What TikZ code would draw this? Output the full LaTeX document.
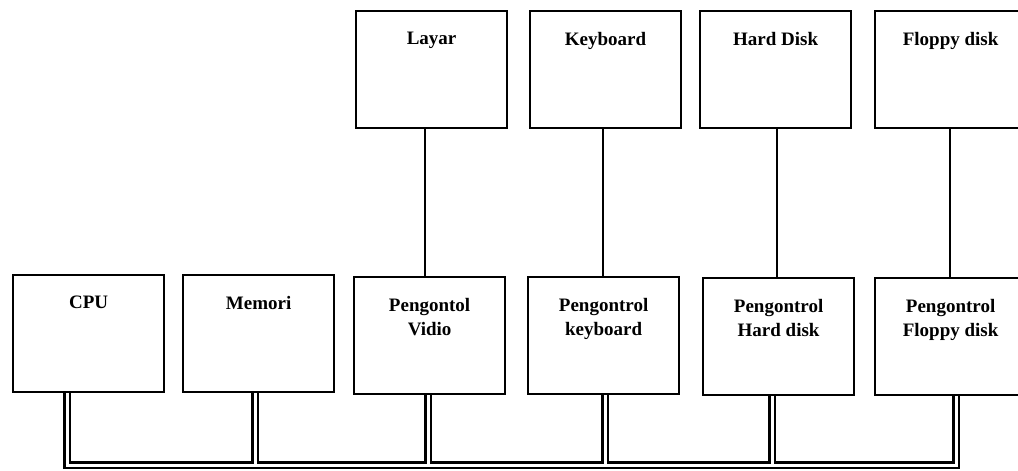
\documentclass[tikz,border=0pt]{standalone}
\usepackage{fontspec}
\setmainfont{Liberation Serif}
\begin{document}
\begin{tikzpicture}[x=1pt,y=-1pt,
  box/.style={draw, line width=2.2pt, rectangle, minimum width=151pt, minimum height=117pt, anchor=north west, inner sep=0pt},
  lbl/.style={font=\fontsize{19}{24}\selectfont\bfseries, align=center, anchor=north, inner sep=0pt},
  link/.style={line width=2.4pt},
  bus/.style={line width=2.2pt, double, double distance=3pt}]
\useasboundingbox (0,0) rectangle (1018,471);
% top row
\node[box] (layar) at (355,10) {};
\node[box] (kbd) at (529,10) {};
\node[box] (hd) at (699,10) {};
\node[box] (fd) at (874,10) {};
% bottom row
\node[box] (cpu) at (12,274) {};
\node[box] (mem) at (182,274) {};
\node[box] (pv) at (353,276) {};
\node[box] (pk) at (527,276) {};
\node[box] (ph) at (702,277) {};
\node[box] (pf) at (874,277) {};
% labels
\node[lbl] (tl) at ([yshift=-22pt]layar.north) {Layar};
\node[lbl] (tk) at ([yshift=-22pt]kbd.north) {Keyboard};
\node[lbl] (th) at ([yshift=-22pt]hd.north) {Hard Disk};
\node[lbl] (tf) at ([yshift=-22pt]fd.north) {Floppy disk};
\node[lbl] (tc) at ([yshift=-22pt]cpu.north) {CPU};
\node[lbl] (tm) at ([yshift=-22pt]mem.north) {Memori};
\node[lbl] (tpv) at ([yshift=-22pt]pv.north) {Pengontol\\Vidio};
\node[lbl] (tpk) at ([yshift=-22pt]pk.north) {Pengontrol\\keyboard};
\node[lbl] (tph) at ([yshift=-22pt]ph.north) {Pengontrol\\Hard disk};
\node[lbl] (tpf) at ([yshift=-22pt]pf.north) {Pengontrol\\Floppy disk};
% single connectors
\draw[link] (layar.south -| 425,0) -- (pv.north -| 425,0);
\draw[link] (kbd.south -| 603,0) -- (pk.north -| 603,0);
\draw[link] (hd.south -| 777,0) -- (ph.north -| 777,0);
\draw[link] (fd.south -| 950,0) -- (pf.north -| 950,0);
% bus
\coordinate (busL) at (67,465);
\coordinate (busR) at (956,465);
\draw[bus] (cpu.south -| busL) -- (busL) -- (busR) -- (pf.south -| busR)
  (mem.south -| 255,0) -- (255,465)
  (pv.south -| 428,0) -- (428,465)
  (pk.south -| 605,0) -- (605,465)
  (ph.south -| 772,0) -- (772,465);
\end{tikzpicture}
\end{document}
